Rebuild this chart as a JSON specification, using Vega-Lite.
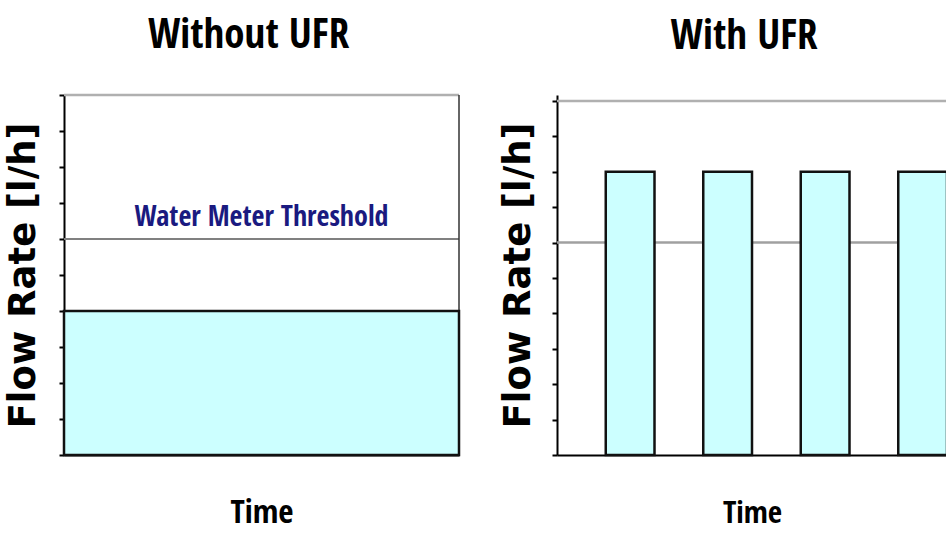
{
  "$schema": "https://vega.github.io/schema/vega-lite/v6.json",
  "background": "white",
  "padding": {"left": 4, "top": 14, "right": 0, "bottom": 0},
  "spacing": 38,
  "config": {
    "view": {"stroke": null},
    "title": {"font": "Open Sans Condensed", "fontSize": 41, "fontWeight": "bold", "color": "#000000", "anchor": "middle", "baseline": "alphabetic", "offset": 37},
    "axis": {"titleFont": "Open Sans Condensed", "titleFontWeight": "bold", "titleColor": "#000000"}
  },
  "hconcat": [
    {
      "title": {"text": "Without UFR", "dx": -13},
      "width": 395,
      "height": 360,
      "layer": [
        {
          "data": {"values": [{"level": 6}]},
          "mark": {"type": "rule", "color": "#808080", "strokeWidth": 2},
          "encoding": {
            "y": {"field": "level", "type": "quantitative", "scale": {"domain": [0, 10], "nice": false},
              "axis": {"values": [0,1,2,3,4,5,6,7,8,9,10], "tickCount": 11, "labelOverlap": false, "labels": false, "grid": false, "tickColor": "#000000", "tickSize": 5, "tickWidth": 2, "domainColor": "#000000", "domainWidth": 2,
                "title": "Flow Rate [l/h]", "titleFont": "DejaVu Sans", "titleFontSize": 37, "titlePadding": 16}}
          }
        },
        {
          "data": {"values": [{"level": 10}]},
          "mark": {"type": "rule", "color": "#b0b0b0", "strokeWidth": 2.5},
          "encoding": {"y": {"field": "level", "type": "quantitative"}}
        },
        {
          "data": {"values": [{"t": 10, "low": 0, "high": 10}]},
          "mark": {"type": "rule", "color": "#333333", "strokeWidth": 1.5},
          "encoding": {
            "x": {"field": "t", "type": "quantitative", "scale": {"domain": [0, 10], "nice": false},
              "axis": {"labels": false, "ticks": false, "grid": false, "domainColor": "#000000", "domainWidth": 2, "title": "Time", "titleFontSize": 33, "titleBaseline": "alphabetic", "titlePadding": 67}},
            "y": {"field": "low", "type": "quantitative"},
            "y2": {"field": "high"}
          }
        },
        {
          "data": {"values": [{"t0": 0, "t1": 10, "base": 0, "flow": 4}]},
          "mark": {"type": "rect", "fill": "#ccffff", "stroke": "#111111", "strokeWidth": 2.5},
          "encoding": {
            "x": {"field": "t0", "type": "quantitative"},
            "x2": {"field": "t1"},
            "y": {"field": "base", "type": "quantitative"},
            "y2": {"field": "flow"}
          }
        },
        {
          "data": {"values": [{"t": 5, "level": 6, "label": "Water Meter Threshold"}]},
          "mark": {"type": "text", "font": "Open Sans Condensed", "fontWeight": "bold", "fontSize": 28, "color": "#1a1a80", "baseline": "alphabetic", "dy": -13},
          "encoding": {
            "x": {"field": "t", "type": "quantitative"},
            "y": {"field": "level", "type": "quantitative"},
            "text": {"field": "label"}
          }
        }
      ]
    },
    {
      "title": {"text": "With UFR", "dx": -8},
      "width": 390,
      "height": 360,
      "layer": [
        {
          "data": {"values": [{"level": 6}]},
          "mark": {"type": "rule", "color": "#a0a0a0", "strokeWidth": 2.5},
          "encoding": {
            "y": {"field": "level", "type": "quantitative", "scale": {"domain": [0, 10.17], "nice": false},
              "axis": {"values": [0,1,2,3,4,5,6,7,8,9,10], "tickCount": 11, "labelOverlap": false, "labels": false, "grid": false, "tickColor": "#000000", "tickSize": 5, "tickWidth": 2, "domainColor": "#000000", "domainWidth": 2,
                "title": "Flow Rate [l/h]", "titleFont": "DejaVu Sans", "titleFontSize": 37, "titlePadding": 14}}
          }
        },
        {
          "data": {"values": [{"level": 10}]},
          "mark": {"type": "rule", "color": "#b0b0b0", "strokeWidth": 2.5},
          "encoding": {"y": {"field": "level", "type": "quantitative"}}
        },
        {
          "data": {"values": [{"t": 8, "low": 0, "high": 10}]},
          "mark": {"type": "rule", "color": "#555555", "strokeWidth": 1.5},
          "encoding": {
            "x": {"field": "t", "type": "quantitative", "scale": {"domain": [0, 8], "nice": false},
              "axis": {"labels": false, "ticks": false, "grid": false, "domainColor": "#000000", "domainWidth": 2, "title": "Time", "titleFontSize": 31, "titleBaseline": "alphabetic", "titlePadding": 67}},
            "y": {"field": "low", "type": "quantitative"},
            "y2": {"field": "high"}
          }
        },
        {
          "data": {"values": [
            {"start": 1, "end": 2, "base": 0, "flow": 8},
            {"start": 3, "end": 4, "base": 0, "flow": 8},
            {"start": 5, "end": 6, "base": 0, "flow": 8},
            {"start": 7, "end": 8, "base": 0, "flow": 8}
          ]},
          "mark": {"type": "rect", "fill": "#ccffff", "stroke": "#111111", "strokeWidth": 2.5},
          "encoding": {
            "x": {"field": "start", "type": "quantitative"},
            "x2": {"field": "end"},
            "y": {"field": "base", "type": "quantitative"},
            "y2": {"field": "flow"}
          }
        }
      ]
    }
  ]
}
